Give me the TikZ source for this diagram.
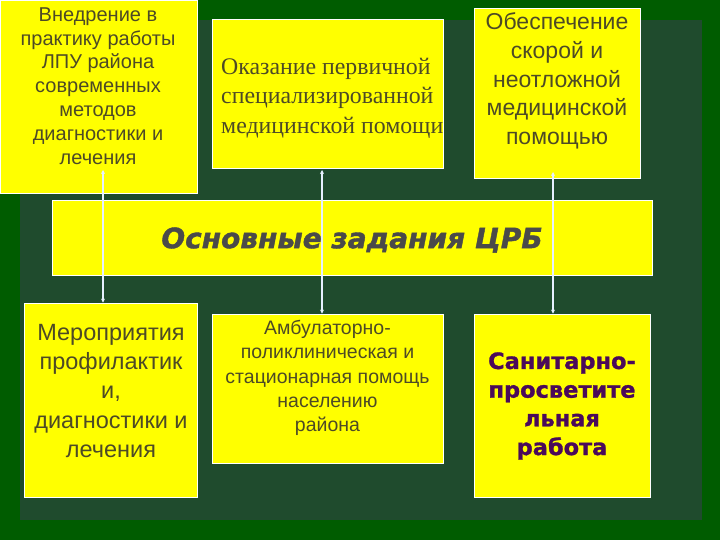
\documentclass[tikz,border=0pt]{standalone}
\usepackage{fontspec}
\setmainfont{Liberation Sans}
\newfontfamily\serifru{Liberation Serif}
\newfontfamily\heavyfont[BoldFeatures={FakeBold=1.2},BoldItalicFeatures={FakeBold=1.4}]{DejaVu Sans}
\usetikzlibrary{arrows.meta}
\definecolor{outergreen}{HTML}{005C00}
\definecolor{marble}{HTML}{1F4B2D}
\definecolor{boxyellow}{HTML}{FFFF00}
\definecolor{olivetext}{HTML}{4D4A26}
\definecolor{purpletext}{HTML}{4A0A5A}
\definecolor{bandtext}{HTML}{4A4A4A}
\definecolor{linecol}{HTML}{E6F0FF}
\tikzset{
  ybox/.style={fill=boxyellow, draw=white, line width=0.8pt, inner sep=0pt},
  btext/.style={text=olivetext, align=center, inner sep=0pt},
  conn/.style={draw=linecol, line width=1.3pt, {Stealth[length=4pt,width=4pt]}-{Stealth[length=4pt,width=4pt]}},
}
\begin{document}
\begin{tikzpicture}[x=1pt,y=-1pt]
\useasboundingbox (0,0) rectangle (720,540);
\fill[outergreen] (0,0) rectangle (720,540);
\fill[marble] (20,20) rectangle (702,520);
% boxes
\node[ybox, minimum width=197pt, minimum height=193pt] (b1) at (98.5,96.5) {};
\node[ybox, minimum width=231pt, minimum height=149pt] (b2) at (327.5,93.5) {};
\node[ybox, minimum width=166pt, minimum height=170pt] (b3) at (557,93) {};
\node[ybox, minimum width=600pt, minimum height=75pt] (band) at (352,237.5) {};
\node[ybox, minimum width=173pt, minimum height=194pt] (b4) at (110.5,400) {};
\node[ybox, minimum width=231pt, minimum height=149pt] (b5) at (327.5,388.5) {};
\node[ybox, minimum width=176pt, minimum height=183pt] (b6) at (562,405.5) {};
% texts
\node[btext, font=\fontsize{20}{23.8}\selectfont] (t1) at (98,86) {Внедрение в\\практику работы\\ЛПУ района\\современных\\методов\\диагностики и\\лечения};
\node[btext, align=left, font=\serifru\fontsize{23.8}{29.5}\selectfont, anchor=west] (t2) at (221,98) {Оказание первичной\\специализированной\\медицинской помощи};
\node[btext, font=\fontsize{23}{28.7}\selectfont] (t3) at (557,81) {Обеспечение\\скорой и\\неотложной\\медицинской\\помощью};
\node[btext, text=bandtext, font=\heavyfont\bfseries\itshape\fontsize{28}{30}\selectfont] (tb) at (352,240) {Основные задания ЦРБ};
\node[btext, font=\fontsize{23.5}{29.3}\selectfont] (t4) at (111,391) {Мероприятия\\профилактик\\и,\\диагностики и\\лечения};
\node[btext, font=\fontsize{19.5}{24.2}\selectfont] (t5) at (327.5,378) {Амбулаторно-\\поликлиническая и\\стационарная помощь\\населению\\района};
\node[btext, text=purpletext, font=\heavyfont\bfseries\fontsize{22.5}{28.7}\selectfont] (t6) at (562,406) {Санитарно-\\просветите\\льная\\работа};
% connectors
\coordinate (c1) at (103,170);
\coordinate (c2) at (322,170);
\coordinate (c3) at (553,172);
\draw[conn] (c1) -- (c1 |- b4.north);
\draw[conn] (c2) -- (c2 |- b5.north);
\draw[conn] (c3) -- (c3 |- b6.north);
\end{tikzpicture}
\end{document}
